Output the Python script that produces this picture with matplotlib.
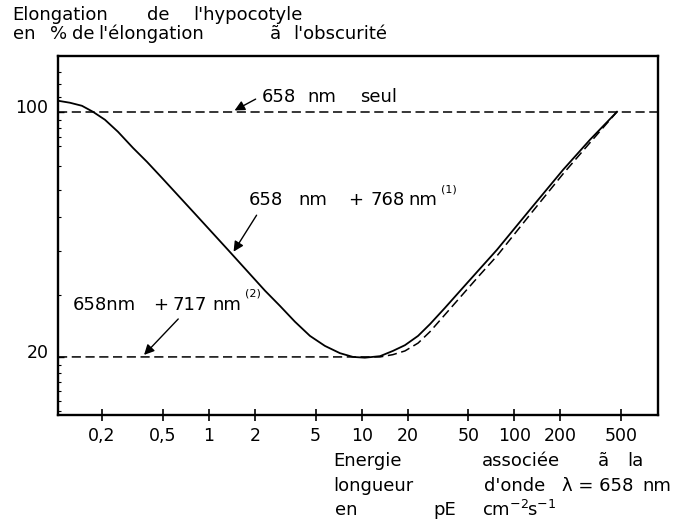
import numpy as np
from matplotlib import pyplot as plt
from matplotlib import transforms
from matplotlib.ticker import FixedLocator, NullFormatter

# 658 nm + 768 nm (courbe continue)
x_768 = [0.103, 0.1233, 0.1477, 0.1743, 0.2089, 0.2542, 0.3187, 0.3935, 0.4932,
         0.811, 1.334, 2.33, 2.92, 3.66, 4.59, 5.75, 7.21, 8.77, 10.5, 13.2,
         16.0, 19.2, 23.4, 28.0, 35.1, 46.0, 59.5, 76.8, 126, 208, 312, 469]
y_768 = [107.5, 106.1, 104.0, 100.0, 94.9, 87.7, 78.9, 72.0, 64.8,
         51.2, 40.4, 30.9, 27.96, 25.2, 22.96, 21.5, 20.5, 20.0, 19.9, 20.1,
         20.8, 21.6, 22.96, 24.8, 27.6, 31.5, 35.7, 40.4, 52.5, 68.3, 83.2, 100.0]

# 658 nm + 717 nm (tirets)
x_717 = [0.103, 10.5, 13.2, 16.0, 19.2, 23.4, 28.0, 35.1, 46.0, 59.5, 76.8, 126, 208, 312, 469]
y_717 = [20.0, 20.0, 20.0, 20.3, 20.8, 21.9, 23.6, 26.4, 30.2, 34.3, 38.8, 50.8, 66.5, 81.6, 100.0]

# 658 nm seul
x_seul = [0.103, 870]
y_seul = [100, 100]

xticks = [0.2, 0.5, 1, 2, 5, 10, 20, 50, 100, 200, 500]
xlabels = ['0,2', '0,5', '1', '2', '5', '10', '20', '50', '100', '200', '500']
yticks = [20, 100]
ylabels = ['20', '100']

W, H = 689, 529
fig = plt.figure(figsize=(W / 100, H / 100), dpi=100)
ax = fig.add_axes([58 / W, 1 - 415 / H, 600 / W, 359 / H])
ax.set_xscale('log')
ax.set_yscale('log')

ax.plot(x_768, y_768, color='k', lw=1.3)
ax.plot(x_717, y_717, color='k', lw=1.1, dashes=(6, 3))
ax.plot(x_seul, y_seul, color='k', lw=1.1, dashes=(6, 3))

ax.set_xlim(0.103, 870)
ax.set_ylim(13.66, 144.2)

for s in ax.spines.values():
    s.set_linewidth(1.7)

ax.xaxis.set_major_locator(FixedLocator(xticks))
ax.set_xticklabels(xlabels, fontsize=12.5)
ax.xaxis.set_minor_locator(FixedLocator([]))
ax.tick_params(axis='x', which='major', direction='inout', length=9, width=1.2, pad=4)

ax.yaxis.set_major_locator(FixedLocator(yticks))
ax.set_yticklabels(ylabels, fontsize=12.5)
ax.yaxis.set_minor_locator(FixedLocator([14, 15, 16, 17, 18, 19, 30, 40, 50, 60, 70, 80,
                                         85, 90, 95, 110, 120, 130]))
ax.yaxis.set_minor_formatter(NullFormatter())
ax.tick_params(axis='y', which='major', direction='in', length=4, width=1.0, pad=7)
ax.tick_params(axis='y', which='minor', direction='in', length=2, width=0.8)

# les étiquettes y sont un peu au-dessus des traits
up = transforms.ScaledTranslation(0, 4 / 72, fig.dpi_scale_trans)
for lab in ax.get_yticklabels():
    lab.set_transform(lab.get_transform() + up)

# flèches
arrow = dict(arrowstyle='-|>', color='k', lw=1.0, mutation_scale=15)
ax.annotate('', xy=(1.42, 100), xytext=(2.10, 109.6), arrowprops=arrow)
ax.annotate('', xy=(1.42, 39.3), xytext=(2.10, 51.5), arrowprops=arrow)
ax.annotate('', xy=(0.366, 20), xytext=(0.649, 26.0), arrowprops=arrow)


def put(txt, x, y, size=13):
    fig.text(x / W, 1 - y / H, txt, fontsize=size, va='center', ha='left')


# titre de l'axe y
put('Elongation', 12, 15)
put('de', 147, 15)
put("l'hypocotyle", 193, 15)
put('en', 13, 34)
put('%', 50, 34)
put('de', 72, 34)
put("l'élongation", 98, 34)
put('ã', 270, 34)
put("l'obscurité", 293, 34)

# étiquettes des courbes
put('658', 262, 97)
put('nm', 307, 97)
put('seul', 360, 97)

put('658', 249, 200)
put('nm', 298, 200)
put('+', 348, 200)
put('768', 370, 200)
put('nm', 408, 200)
put('(1)', 441, 189, size=8)

put('658nm', 73, 305)
put('+', 153, 305)
put('717', 172, 305)
put('nm', 212, 305)
put('(2)', 245, 293, size=8)

# titre de l'axe x
put('Energie', 333, 461)
put('associée', 482, 461)
put('ã', 598, 461)
put('la', 627, 461)
put('longueur', 333, 486)
put("d'onde", 484, 486)
put('λ = 658', 562, 486)
put('nm', 642, 486)
put('en', 335, 510)
put('pE', 433, 510)
put(r'cm$^{-2}$', 482, 510)
put(r's$^{-1}$', 527, 510)

fig.savefig('out.png', dpi=100)
